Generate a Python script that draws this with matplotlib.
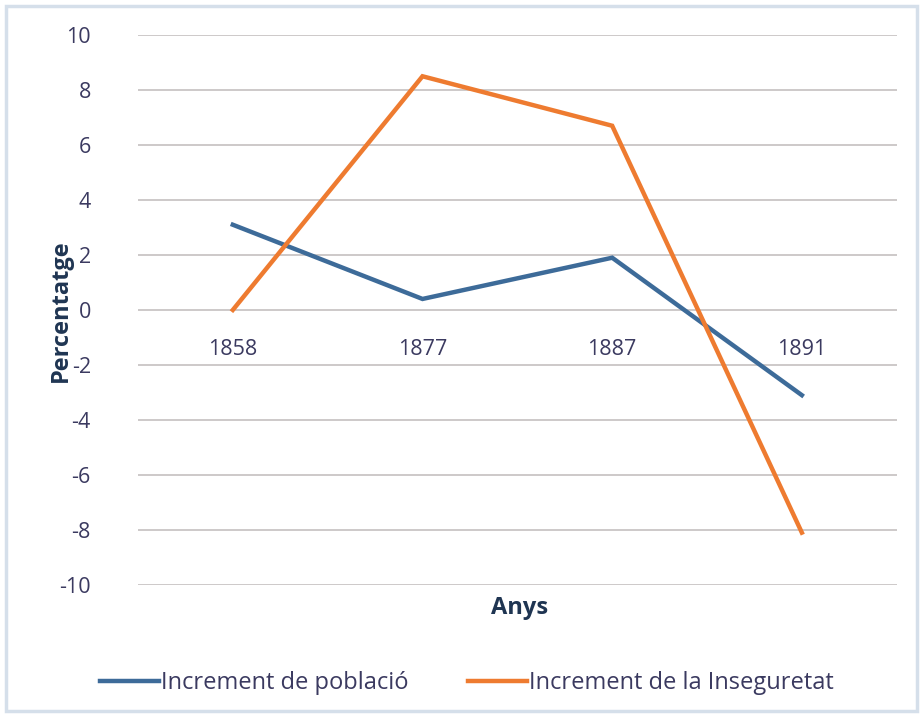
import matplotlib.pyplot as plt
from matplotlib.patches import Rectangle
from matplotlib.lines import Line2D

# Data
years = ['1858', '1877', '1887', '1891']
poblacio = [3.1, 0.4, 1.9, -3.1]
inseguretat = [0.0, 8.5, 6.7, -8.1]
yticks = [-10, -8, -6, -4, -2, 0, 2, 4, 6, 8, 10]

plt.rcParams['font.family'] = ['Open Sans', 'DejaVu Sans']
text_color = '#3b3a60'

fig = plt.figure(figsize=(9.23, 7.15), dpi=100)
ax = fig.add_axes([0.1495, 0.182, 0.822, 0.769])

# light frame around the whole chart
fig.patches.append(Rectangle((0.006, 0.006), 0.988, 0.985, transform=fig.transFigure,
                             fill=False, edgecolor='#d5dfea', linewidth=2.5))

x = range(len(years))
ax.plot(x, poblacio, color='#3d6b99', linewidth=3.2, solid_joinstyle='miter')
ax.plot(x, inseguretat, color='#ee7b30', linewidth=3.2, solid_joinstyle='miter')

ax.set_xlim(-0.5, 3.5)
ax.set_ylim(-10, 10)
ax.set_yticks(yticks)
ax.set_yticklabels([str(v) for v in yticks])
ax.yaxis.grid(True, color='#c9c5c5', linewidth=1.3)
ax.set_axisbelow(True)

for s in ax.spines.values():
    s.set_visible(False)
ax.spines['bottom'].set_position(('data', 0))

ax.set_xticks(list(x))
ax.set_xticklabels(years)
ax.tick_params(axis='x', length=0, pad=21, labelsize=15.5, labelcolor=text_color)
ax.tick_params(axis='y', length=0, pad=34, labelsize=15.5, labelcolor=text_color)

fig.text(0.066, 0.566, 'Percentatge', rotation=90, ha='center', va='center',
         fontsize=17, fontweight='bold', color='#1f3552')
fig.text(0.563, 0.149, 'Anys', ha='center', va='center',
         fontsize=17, fontweight='bold', color='#1f3552')

handles = [Line2D([], [], color='#3d6b99', linewidth=3.2),
           Line2D([], [], color='#ee7b30', linewidth=3.2)]
fig.legend(handles, ['Increment de població', 'Increment de la Inseguretat'],
           loc='center', bbox_to_anchor=(0.506, 0.045), ncol=2, frameon=False,
           fontsize=17, handlelength=2.5, handletextpad=0.1, columnspacing=2.5,
           labelcolor=text_color)

fig.savefig('out.png', dpi=100, facecolor='white')
